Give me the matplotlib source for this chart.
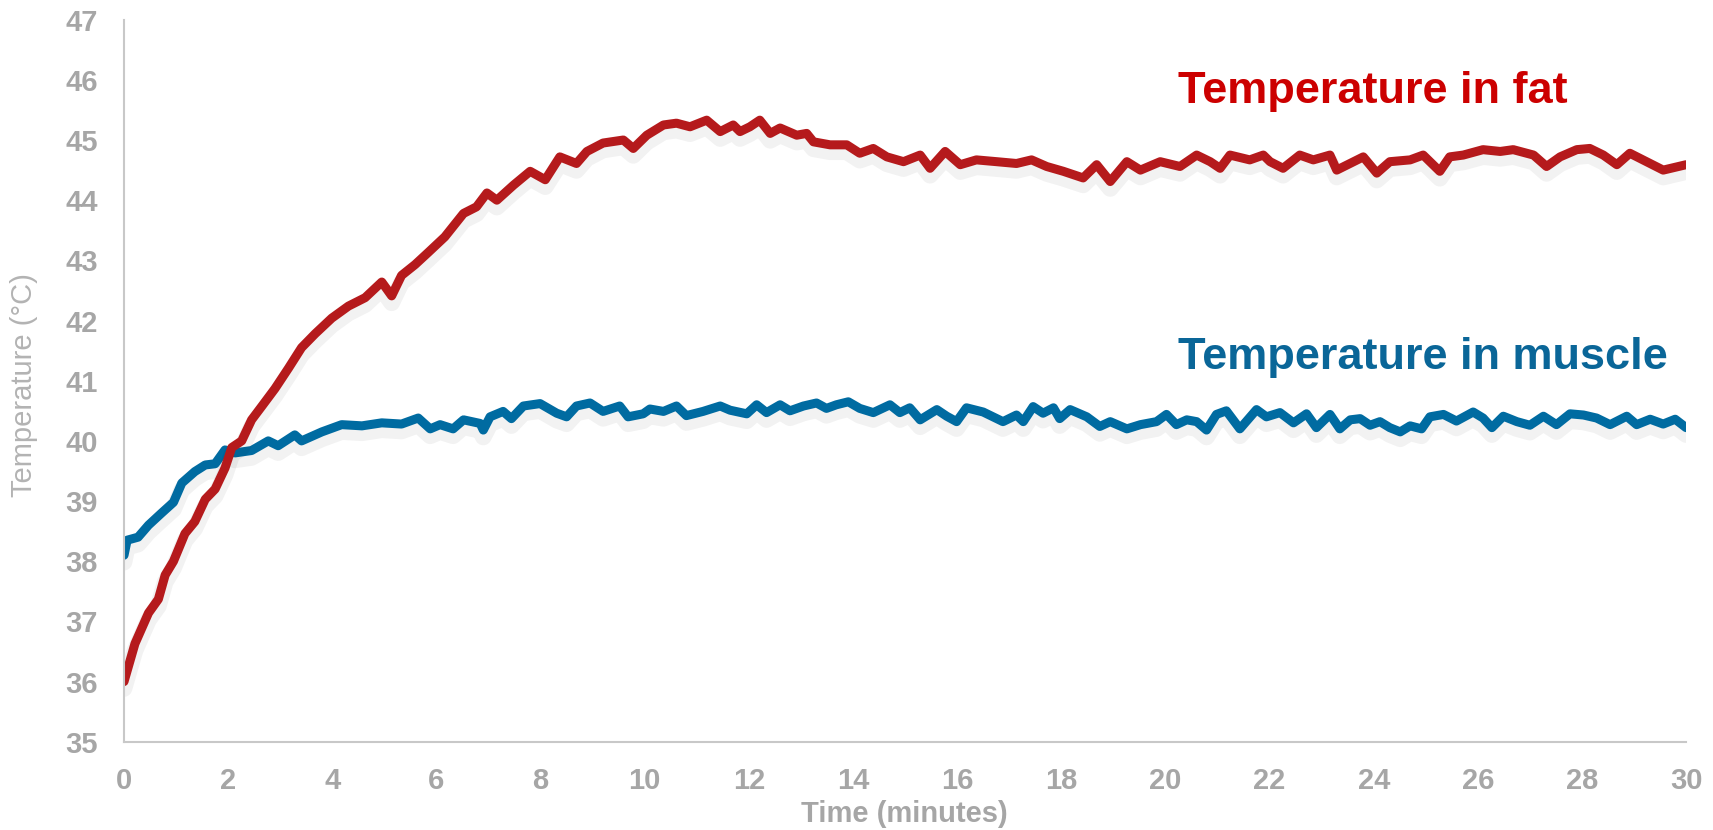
import matplotlib.pyplot as plt
import matplotlib.patheffects as pe

# Temperature readings (time in minutes, temperature in degC)
fat_time = [0, 0.21, 0.47, 0.66, 0.79, 0.95, 1.17, 1.36, 1.56, 1.75, 1.94, 2.07, 2.26, 2.45,
            2.65, 2.9, 3.16, 3.41, 3.67, 3.99, 4.31, 4.63, 4.95, 5.14, 5.33, 5.59, 5.84,
            6.16, 6.52, 6.77, 6.97, 7.16, 7.48, 7.8, 8.09, 8.37, 8.69, 8.89, 9.2, 9.59, 9.78,
            10.04, 10.36, 10.61, 10.87, 11.19, 11.45, 11.7, 11.83, 12.02, 12.21, 12.41, 12.6,
            12.92, 13.11, 13.24, 13.56, 13.88, 14.13, 14.39, 14.65, 14.97, 15.29, 15.48, 15.77,
            16.06, 16.37, 16.76, 17.14, 17.43, 17.72, 18.04, 18.42, 18.68, 18.94, 19.26, 19.52,
            19.9, 20.28, 20.6, 20.86, 21.05, 21.24, 21.62, 21.88, 22.01, 22.26, 22.58, 22.84,
            23.16, 23.29, 23.8, 24.06, 24.31, 24.7, 24.95, 25.27, 25.46, 25.72, 26.1, 26.43,
            26.68, 27.07, 27.32, 27.58, 27.9, 28.15, 28.41, 28.67, 28.92, 29.24, 29.56, 30.0]
fat_temp = [36.0, 36.63, 37.14, 37.37, 37.77, 38.0, 38.46, 38.66, 39.03, 39.2, 39.55, 39.89,
            40.0, 40.35, 40.58, 40.87, 41.21, 41.55, 41.78, 42.04, 42.24, 42.38, 42.64, 42.41,
            42.75, 42.93, 43.13, 43.39, 43.78, 43.89, 44.12, 44.0, 44.25, 44.48, 44.34, 44.72,
            44.61, 44.81, 44.95, 45.0, 44.86, 45.08, 45.25, 45.28, 45.22, 45.33, 45.14, 45.25,
            45.14, 45.22, 45.33, 45.11, 45.2, 45.08, 45.11, 44.97, 44.92, 44.92, 44.78, 44.86,
            44.72, 44.64, 44.75, 44.53, 44.81, 44.59, 44.67, 44.64, 44.61, 44.67, 44.56, 44.48,
            44.37, 44.59, 44.31, 44.64, 44.5, 44.64, 44.56, 44.75, 44.64, 44.53, 44.75, 44.67,
            44.75, 44.64, 44.53, 44.75, 44.67, 44.75, 44.5, 44.72, 44.45, 44.64, 44.67, 44.75,
            44.48, 44.72, 44.75, 44.84, 44.81, 44.84, 44.75, 44.56, 44.72, 44.84, 44.86, 44.75,
            44.59, 44.78, 44.64, 44.5, 44.59]

muscle_time = [0, 0.06, 0.27, 0.47, 0.72, 0.95, 1.11, 1.36, 1.56, 1.75, 1.94, 2.13, 2.45, 2.77,
               2.96, 3.28, 3.41, 3.8, 4.18, 4.57, 4.95, 5.33, 5.65, 5.88, 6.07, 6.32, 6.52, 6.84,
               6.9, 7.03, 7.28, 7.44, 7.67, 7.99, 8.31, 8.5, 8.69, 8.95, 9.2, 9.52, 9.68, 9.97,
               10.1, 10.36, 10.61, 10.8, 11.12, 11.45, 11.64, 11.96, 12.15, 12.34, 12.6, 12.79,
               13.05, 13.3, 13.49, 13.68, 13.91, 14.13, 14.39, 14.71, 14.9, 15.09, 15.29, 15.61,
               15.8, 15.99, 16.18, 16.5, 16.88, 17.14, 17.27, 17.46, 17.65, 17.85, 17.97, 18.17,
               18.49, 18.74, 18.94, 19.26, 19.52, 19.83, 20.02, 20.21, 20.41, 20.6, 20.79, 20.98,
               21.17, 21.43, 21.75, 21.94, 22.2, 22.46, 22.71, 22.9, 23.16, 23.35, 23.55, 23.74,
               23.93, 24.12, 24.31, 24.51, 24.7, 24.92, 25.08, 25.34, 25.59, 25.91, 26.1, 26.27,
               26.49, 26.75, 27.0, 27.26, 27.51, 27.77, 28.03, 28.28, 28.54, 28.86, 29.05, 29.31,
               29.56, 29.79, 30.0]
muscle_temp = [38.1, 38.35, 38.4, 38.6, 38.8, 38.98, 39.3, 39.49, 39.6, 39.62, 39.85, 39.8, 39.84,
               40.0, 39.92, 40.1, 40.0, 40.15, 40.27, 40.25, 40.3, 40.28, 40.38, 40.2, 40.27, 40.2,
               40.35, 40.29, 40.18, 40.4, 40.49, 40.37, 40.58, 40.62, 40.46, 40.4, 40.58, 40.63,
               40.49, 40.58, 40.4, 40.45, 40.53, 40.49, 40.58, 40.42, 40.49, 40.58, 40.51, 40.45,
               40.6, 40.47, 40.6, 40.5, 40.58, 40.63, 40.54, 40.6, 40.65, 40.54, 40.47, 40.6, 40.47,
               40.55, 40.35, 40.52, 40.41, 40.32, 40.55, 40.48, 40.32, 40.43, 40.32, 40.57, 40.46,
               40.55, 40.37, 40.52, 40.4, 40.24, 40.32, 40.2, 40.27, 40.32, 40.44, 40.27, 40.35,
               40.32, 40.18, 40.44, 40.5, 40.2, 40.52, 40.4, 40.47, 40.3, 40.45, 40.22, 40.44, 40.2,
               40.35, 40.37, 40.26, 40.32, 40.22, 40.15, 40.25, 40.2, 40.4, 40.44, 40.33, 40.48,
               40.38, 40.22, 40.41, 40.32, 40.26, 40.41, 40.27, 40.45, 40.43, 40.38, 40.27, 40.41,
               40.27, 40.36, 40.28, 40.36, 40.22]

x_ticks = list(range(0, 31, 2))
y_ticks = list(range(35, 48))

fat_color = '#B51A1C'
muscle_color = '#006BA1'
gray = '#A6A6A6'

plt.rcParams['font.family'] = ['Liberation Sans', 'DejaVu Sans']

fig = plt.figure(figsize=(17.13, 8.30), dpi=100)
ax = fig.add_axes([0.0724, 0.1063, 0.9119, 0.8700])

shadow = [pe.SimpleLineShadow(offset=(0, -5), shadow_color='black', alpha=0.05, linewidth=12),
          pe.Normal()]
ax.plot(muscle_time, muscle_temp, color=muscle_color, lw=6.5, solid_capstyle='round',
        solid_joinstyle='round', path_effects=shadow)
ax.plot(fat_time, fat_temp, color=fat_color, lw=6.5, solid_capstyle='round',
        solid_joinstyle='round', path_effects=shadow)

ax.set_xlim(0, 30)
ax.set_ylim(35, 47)
ax.set_xticks(x_ticks)
ax.set_yticks(y_ticks)
ax.tick_params(length=0, labelsize=21, labelcolor=gray)
ax.tick_params(axis='x', pad=18)
ax.tick_params(axis='y', pad=19)
for lab in ax.get_xticklabels() + ax.get_yticklabels():
    lab.set_fontweight('bold')

for side in ['top', 'right']:
    ax.spines[side].set_visible(False)
for side in ['left', 'bottom']:
    ax.spines[side].set_color('#C8C8C8')
    ax.spines[side].set_linewidth(1.5)

fig.text(0.528, 0.019, 'Time (minutes)', ha='center', va='center', fontsize=21,
         fontweight='bold', color=gray)
fig.text(0.014, 0.536, 'Temperature (°C)', ha='center', va='center', rotation=90,
         fontsize=21, color='#B3B3B3')

# series labels
ax.text(20.25, 45.8, 'Temperature in fat', fontsize=32.5, fontweight='bold',
        color='#CC0000', va='center', ha='left')
ax.text(20.25, 41.38, 'Temperature in muscle', fontsize=32.5, fontweight='bold',
        color='#0A6698', va='center', ha='left')

plt.savefig('out.png', dpi=100)
